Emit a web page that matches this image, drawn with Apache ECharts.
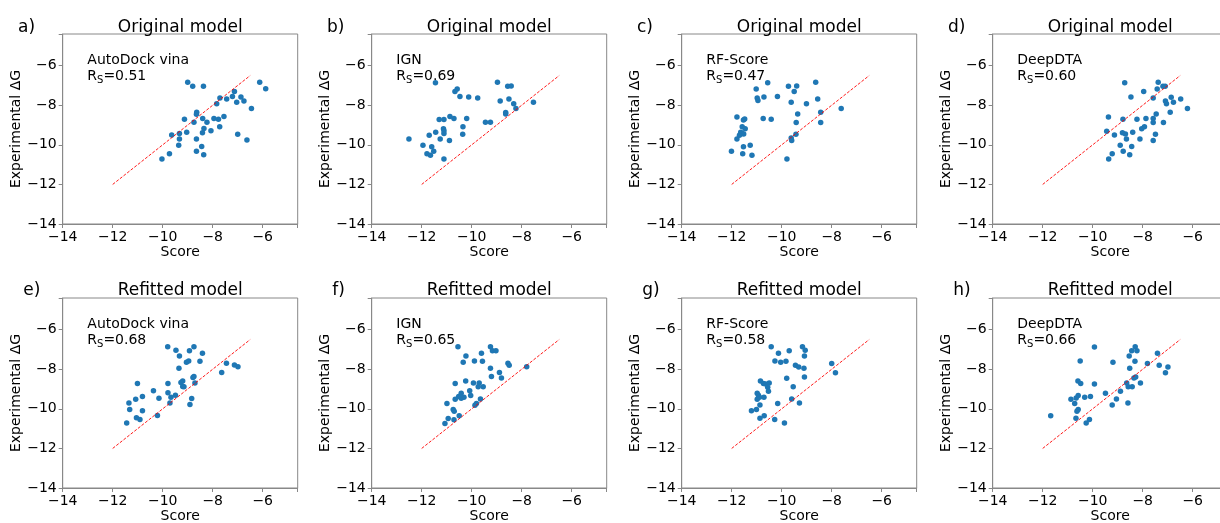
<!DOCTYPE html>
<html>
<head>
<meta charset="utf-8">
<script src="https://cdn.jsdelivr.net/npm/echarts@6/dist/echarts.min.js"></script>
<style>
  html, body { margin: 0; padding: 0; background: #fff; }
  #chart { width: 1220px; height: 523px; }
</style>
</head>
<body>
<div id="chart"></div>
<script>
var panelLabels = ['a)', 'b)', 'c)', 'd)', 'e)', 'f)', 'g)', 'h)'];
var modelTitles = ['Original model', 'Refitted model'];
var methods = ['AutoDock vina', 'IGN', 'RF-Score', 'DeepDTA'];
var rsValues = ['0.51', '0.69', '0.47', '0.60', '0.68', '0.65', '0.58', '0.66'];
var refLine = [-12, -6.5];

// [score, experimental dG]
var origVina = [[-9.0,-6.84],[-8.8,-7.04],[-8.37,-7.04],[-6.12,-6.84],[-5.88,-7.16],[-7.13,-7.31],[-7.71,-7.63],[-7.44,-7.68],[-7.21,-7.56],[-6.87,-7.58],[-7.04,-7.85],[-6.75,-7.78],[-7.84,-7.93],[-6.45,-8.17],[-8.64,-8.35],[-8.65,-8.45],[-8.4,-8.67],[-7.95,-8.67],[-7.77,-8.71],[-7.55,-8.57],[-9.13,-8.71],[-8.75,-8.86],[-8.23,-8.86],[-7.72,-9.08],[-8.35,-9.18],[-8.07,-9.29],[-9.04,-9.36],[-8.41,-9.39],[-9.64,-9.5],[-9.33,-9.43],[-7.0,-9.46],[-9.33,-9.7],[-8.65,-9.7],[-6.63,-9.76],[-9.36,-10.02],[-8.44,-10.08],[-8.65,-10.32],[-9.73,-10.45],[-8.36,-10.5],[-10.03,-10.71]];
var origIgn = [[-12.51,-9.71],[-11.95,-10.02],[-11.7,-9.51],[-11.45,-6.86],[-11.44,-9.36],[-11.3,-8.72],[-11.11,-8.72],[-11.13,-9.19],[-11.11,-9.29],[-11.11,-9.43],[-11.26,-9.7],[-10.89,-9.78],[-11.6,-10.1],[-11.79,-10.45],[-11.65,-10.52],[-11.52,-10.32],[-11.11,-10.71],[-10.87,-8.57],[-10.71,-8.67],[-10.2,-8.67],[-10.67,-7.31],[-10.58,-7.18],[-10.47,-7.56],[-10.12,-7.58],[-9.76,-7.63],[-10.35,-9.09],[-10.36,-9.46],[-9.45,-8.86],[-9.25,-8.86],[-8.97,-6.84],[-8.56,-7.04],[-8.42,-7.03],[-8.86,-7.78],[-8.51,-7.68],[-8.32,-7.93],[-8.64,-8.37],[-8.64,-8.44],[-8.23,-8.17],[-7.53,-7.85]];
var origRf = [[-12.01,-10.32],[-11.79,-9.71],[-11.79,-8.59],[-11.69,-9.51],[-11.64,-9.36],[-11.58,-9.09],[-11.58,-9.43],[-11.52,-9.45],[-11.46,-9.19],[-11.53,-8.74],[-11.48,-8.69],[-11.53,-10.1],[-11.56,-10.45],[-11.26,-10.02],[-11.19,-10.52],[-11.02,-7.18],[-10.98,-7.63],[-10.95,-7.76],[-10.71,-7.58],[-10.56,-6.86],[-10.74,-8.67],[-10.42,-8.71],[-10.17,-7.56],[-9.73,-7.04],[-9.4,-7.03],[-9.5,-7.31],[-9.62,-7.85],[-9.01,-7.93],[-8.64,-6.84],[-8.56,-7.68],[-9.36,-8.44],[-9.42,-8.87],[-9.43,-9.46],[-9.62,-9.66],[-9.6,-9.78],[-9.79,-10.71],[-8.44,-8.35],[-8.44,-8.87],[-7.62,-8.17]];
var origDeep = [[-8.72,-6.86],[-7.38,-6.84],[-7.42,-7.18],[-7.19,-7.04],[-7.1,-7.04],[-7.96,-7.31],[-8.47,-7.58],[-7.58,-7.63],[-7.09,-7.78],[-7.05,-7.92],[-6.86,-7.6],[-6.48,-7.68],[-6.77,-7.85],[-6.21,-8.17],[-6.9,-8.35],[-7.46,-8.44],[-7.87,-8.67],[-8.23,-8.71],[-7.58,-8.67],[-7.58,-8.87],[-7.17,-8.87],[-9.37,-8.59],[-8.79,-8.71],[-7.93,-9.09],[-8.04,-9.19],[-9.44,-9.31],[-9.13,-9.5],[-8.81,-9.39],[-8.69,-9.45],[-8.4,-9.36],[-8.65,-9.71],[-8.11,-9.7],[-7.49,-9.46],[-7.58,-9.78],[-8.9,-10.02],[-8.44,-10.08],[-9.22,-10.45],[-8.78,-10.32],[-8.52,-10.5],[-9.36,-10.71]];
var refitVina = [[-9.8,-6.86],[-9.47,-7.04],[-8.75,-6.86],[-8.93,-7.06],[-9.33,-7.33],[-8.41,-7.19],[-9.05,-7.65],[-8.96,-7.58],[-8.51,-7.6],[-9.35,-7.95],[-7.45,-7.7],[-7.13,-7.78],[-6.99,-7.87],[-7.64,-8.17],[-8.79,-8.42],[-8.75,-8.37],[-8.71,-8.69],[-9.2,-8.59],[-9.27,-8.67],[-9.2,-8.87],[-9.15,-8.89],[-9.79,-8.72],[-11.01,-8.72],[-10.37,-9.09],[-9.79,-9.19],[-9.49,-9.31],[-9.67,-9.41],[-10.15,-9.46],[-10.81,-9.38],[-11.08,-9.51],[-8.84,-9.48],[-9.71,-9.71],[-8.91,-9.78],[-11.35,-9.71],[-11.32,-10.03],[-10.81,-10.1],[-10.21,-10.34],[-11.05,-10.45],[-10.91,-10.54],[-11.44,-10.72]];
var refitIgn = [[-10.55,-6.86],[-9.25,-6.86],[-9.17,-7.06],[-9.03,-7.06],[-9.61,-7.19],[-10.23,-7.33],[-9.89,-7.58],[-9.57,-7.6],[-10.34,-7.65],[-9.25,-7.95],[-8.55,-7.7],[-8.5,-7.8],[-8.89,-8.17],[-9.21,-8.37],[-8.81,-8.44],[-7.8,-7.87],[-10.66,-8.72],[-10.24,-8.59],[-9.93,-8.69],[-9.7,-8.69],[-9.74,-8.89],[-9.54,-8.89],[-10.08,-9.09],[-10.04,-9.33],[-10.42,-9.21],[-10.52,-9.38],[-10.42,-9.46],[-10.31,-9.41],[-10.66,-9.51],[-9.65,-9.5],[-10.99,-9.73],[-9.81,-9.73],[-9.87,-9.82],[-10.74,-10.03],[-10.7,-10.12],[-10.5,-10.35],[-10.94,-10.49],[-10.71,-10.55],[-11.07,-10.74]];
var refitRf = [[-10.42,-6.86],[-9.17,-6.86],[-9.06,-7.04],[-9.7,-7.06],[-10.13,-7.19],[-9.09,-7.33],[-10.27,-7.58],[-10.04,-7.65],[-9.83,-7.6],[-9.45,-7.8],[-9.32,-7.88],[-9.11,-7.95],[-8.0,-7.71],[-7.85,-8.18],[-9.8,-8.45],[-9.09,-8.39],[-10.85,-8.59],[-10.73,-8.72],[-10.64,-8.74],[-10.5,-8.69],[-10.56,-8.91],[-10.53,-9.11],[-9.54,-8.89],[-10.98,-9.21],[-10.93,-9.31],[-10.89,-9.41],[-10.71,-9.41],[-10.98,-9.51],[-9.6,-9.5],[-10.16,-9.73],[-9.29,-9.71],[-10.87,-9.8],[-11.21,-10.1],[-11.01,-10.03],[-10.7,-10.35],[-10.87,-10.47],[-10.28,-10.54],[-9.89,-10.72]];
var refitDeep = [[-9.93,-6.87],[-8.3,-6.86],[-8.44,-7.06],[-8.23,-7.06],[-8.54,-7.33],[-7.41,-7.19],[-10.5,-7.58],[-9.19,-7.65],[-8.31,-7.6],[-7.81,-7.71],[-7.34,-7.8],[-6.99,-7.88],[-8.52,-7.95],[-7.09,-8.18],[-8.35,-8.44],[-8.28,-8.39],[-10.59,-8.59],[-10.48,-8.72],[-9.93,-8.74],[-8.64,-8.69],[-8.58,-8.89],[-8.42,-8.89],[-8.09,-8.69],[-9.49,-9.21],[-8.89,-9.11],[-10.58,-9.33],[-10.66,-9.45],[-10.87,-9.51],[-10.32,-9.41],[-10.09,-9.38],[-9.05,-9.5],[-10.72,-9.73],[-9.22,-9.8],[-8.59,-9.71],[-10.58,-10.03],[-10.63,-10.12],[-11.68,-10.35],[-10.67,-10.47],[-10.13,-10.54],[-10.26,-10.72]];

var panels = [origVina, origIgn, origRf, origDeep, refitVina, refitIgn, refitRf, refitDeep];

var FONT = 'DejaVu Sans';
var boxLeft = [62.7, 371.7, 681.7, 992.7];
var boxTop = [34, 298];
var titleTop = [19, 282.5];
var boxW = 235, boxH = 190;
var spine = '#888888';

function fmt(v) {
    if (Math.abs(v - Math.round(v)) > 1e-6 || Math.round(v) % 2 !== 0) return '';
    return String(v).replace('-', '\u2212');
}

function buildOption() {
    var grids = [], xAxes = [], yAxes = [], series = [], titles = [];

    for (var i = 0; i < 8; i++) {
        var row = i < 4 ? 0 : 1;
        var col = i % 4;
        var gx = boxLeft[col], gy = boxTop[row];

        grids.push({
            left: gx, top: gy, width: boxW, height: boxH,
            show: true, borderColor: spine, borderWidth: 1,
            outerBoundsMode: 'none', containLabel: false
        });

        xAxes.push({
            gridIndex: i, type: 'value', min: -14, max: -4.6, interval: 2,
            name: 'Score', nameLocation: 'middle', nameGap: 18,
            nameTextStyle: { fontFamily: FONT, fontSize: 14, color: '#000' },
            axisLine: { show: true, onZero: false, lineStyle: { color: spine, width: 1 } },
            axisTick: { show: true, length: 4, lineStyle: { color: spine } },
            axisLabel: { fontFamily: FONT, fontSize: 14, color: '#000', margin: 6, formatter: fmt },
            splitLine: { show: false }
        });

        yAxes.push({
            gridIndex: i, type: 'value', min: -14, max: -4.4, interval: 2,
            name: 'Experimental ΔG', nameLocation: 'middle', nameGap: 37,
            nameTextStyle: { fontFamily: FONT, fontSize: 14, color: '#000' },
            axisLine: { show: true, onZero: false, lineStyle: { color: spine, width: 1 } },
            axisTick: { show: true, length: 4, lineStyle: { color: spine } },
            axisLabel: { fontFamily: FONT, fontSize: 14, color: '#000', margin: 6, formatter: fmt },
            splitLine: { show: false }
        });

        series.push({
            type: 'line', xAxisIndex: i, yAxisIndex: i,
            data: refLine.map(function (v) { return [v, v]; }),
            symbol: 'none', silent: true,
            lineStyle: { color: '#ff0000', width: 0.9, type: [3, 1.6] }
        });
        series.push({
            type: 'scatter', xAxisIndex: i, yAxisIndex: i,
            data: panels[i], symbol: 'circle', symbolSize: 5.5,
            itemStyle: { color: '#1f77b4', opacity: 1 }
        });

        titles.push({
            text: modelTitles[row], left: gx + boxW / 2, top: titleTop[row],
            textAlign: 'center', padding: 0,
            textStyle: { fontFamily: FONT, fontSize: 17, fontWeight: 'normal', color: '#000' }
        });
        titles.push({
            text: panelLabels[i], left: gx - (row === 0 ? 44.7 : 39.5), top: titleTop[row],
            padding: 0,
            textStyle: { fontFamily: FONT, fontSize: 17, fontWeight: 'normal', color: '#000' }
        });
        titles.push({
            text: '{n|' + methods[col] + '}\n{n|R}{s|S}{n|=' + rsValues[i] + '}',
            left: gx + 24.6, top: gy + 18.5,
            padding: 0,
            textStyle: {
                fontFamily: FONT, fontSize: 14, fontWeight: 'normal', color: '#000', lineHeight: 16,
                rich: {
                    n: { fontFamily: FONT, fontSize: 14, color: '#000', lineHeight: 16 },
                    s: { fontFamily: FONT, fontSize: 10, color: '#000', lineHeight: 10, padding: [7, 0, 0, 0] }
                }
            }
        });
    }

    return {
        animation: false,
        backgroundColor: '#ffffff',
        title: titles,
        grid: grids,
        xAxis: xAxes,
        yAxis: yAxes,
        series: series
    };
}

var chart = echarts.init(document.getElementById('chart'));
chart.setOption(buildOption());
</script>
</body>
</html>
